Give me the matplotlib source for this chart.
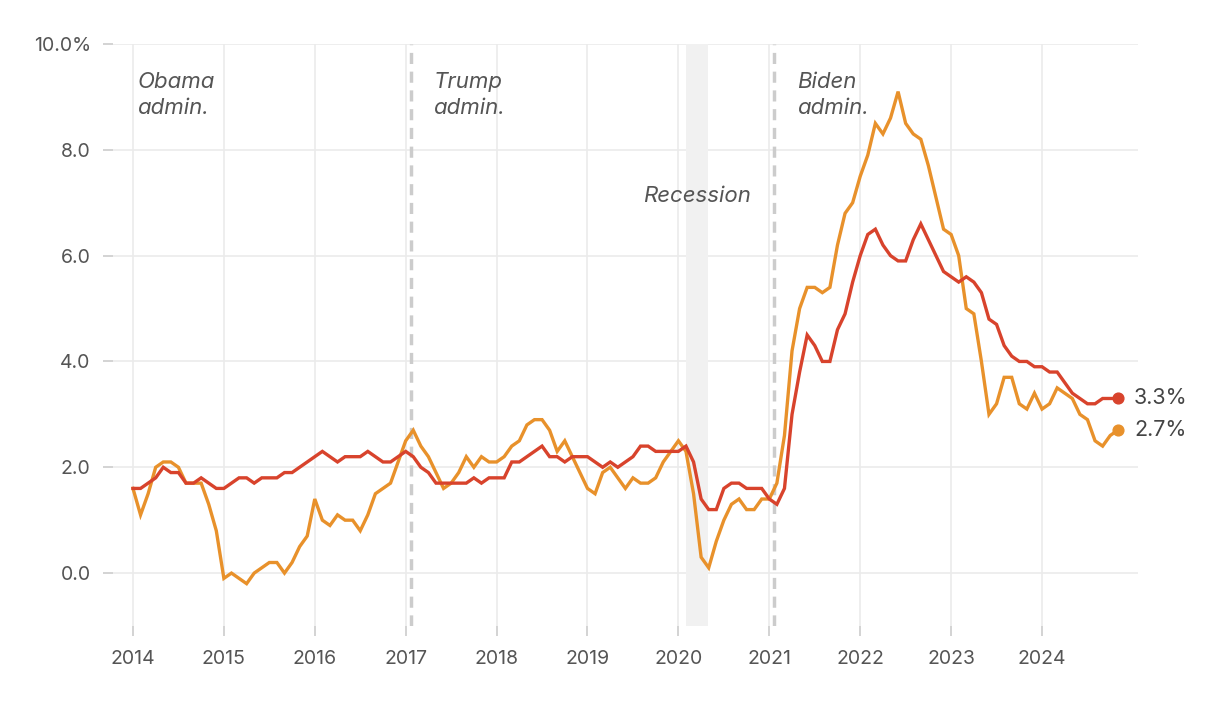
import numpy as np
import matplotlib
matplotlib.use("Agg")
import matplotlib.pyplot as plt

# monthly year-over-year change, Jan 2014 - Nov 2024
headline = [
    1.6, 1.1, 1.5, 2.0, 2.1, 2.1, 2.0, 1.7, 1.7, 1.7, 1.3, 0.8,     # 2014
    -0.1, 0.0, -0.1, -0.2, 0.0, 0.1, 0.2, 0.2, 0.0, 0.2, 0.5, 0.7,  # 2015
    1.4, 1.0, 0.9, 1.1, 1.0, 1.0, 0.8, 1.1, 1.5, 1.6, 1.7, 2.1,     # 2016
    2.5, 2.7, 2.4, 2.2, 1.9, 1.6, 1.7, 1.9, 2.2, 2.0, 2.2, 2.1,     # 2017
    2.1, 2.2, 2.4, 2.5, 2.8, 2.9, 2.9, 2.7, 2.3, 2.5, 2.2, 1.9,     # 2018
    1.6, 1.5, 1.9, 2.0, 1.8, 1.6, 1.8, 1.7, 1.7, 1.8, 2.1, 2.3,     # 2019
    2.5, 2.3, 1.5, 0.3, 0.1, 0.6, 1.0, 1.3, 1.4, 1.2, 1.2, 1.4,     # 2020
    1.4, 1.7, 2.6, 4.2, 5.0, 5.4, 5.4, 5.3, 5.4, 6.2, 6.8, 7.0,     # 2021
    7.5, 7.9, 8.5, 8.3, 8.6, 9.1, 8.5, 8.3, 8.2, 7.7, 7.1, 6.5,     # 2022
    6.4, 6.0, 5.0, 4.9, 4.0, 3.0, 3.2, 3.7, 3.7, 3.2, 3.1, 3.4,     # 2023
    3.1, 3.2, 3.5, 3.4, 3.3, 3.0, 2.9, 2.5, 2.4, 2.6, 2.7,          # 2024
]
core = [
    1.6, 1.6, 1.7, 1.8, 2.0, 1.9, 1.9, 1.7, 1.7, 1.8, 1.7, 1.6,     # 2014
    1.6, 1.7, 1.8, 1.8, 1.7, 1.8, 1.8, 1.8, 1.9, 1.9, 2.0, 2.1,     # 2015
    2.2, 2.3, 2.2, 2.1, 2.2, 2.2, 2.2, 2.3, 2.2, 2.1, 2.1, 2.2,     # 2016
    2.3, 2.2, 2.0, 1.9, 1.7, 1.7, 1.7, 1.7, 1.7, 1.8, 1.7, 1.8,     # 2017
    1.8, 1.8, 2.1, 2.1, 2.2, 2.3, 2.4, 2.2, 2.2, 2.1, 2.2, 2.2,     # 2018
    2.2, 2.1, 2.0, 2.1, 2.0, 2.1, 2.2, 2.4, 2.4, 2.3, 2.3, 2.3,     # 2019
    2.3, 2.4, 2.1, 1.4, 1.2, 1.2, 1.6, 1.7, 1.7, 1.6, 1.6, 1.6,     # 2020
    1.4, 1.3, 1.6, 3.0, 3.8, 4.5, 4.3, 4.0, 4.0, 4.6, 4.9, 5.5,     # 2021
    6.0, 6.4, 6.5, 6.2, 6.0, 5.9, 5.9, 6.3, 6.6, 6.3, 6.0, 5.7,     # 2022
    5.6, 5.5, 5.6, 5.5, 5.3, 4.8, 4.7, 4.3, 4.1, 4.0, 4.0, 3.9,     # 2023
    3.9, 3.8, 3.8, 3.6, 3.4, 3.3, 3.2, 3.2, 3.3, 3.3, 3.3,          # 2024
]
start_year = 2014
years = list(range(2014, 2025))
y_ticks = [0, 2, 4, 6, 8, 10]
y_labels = ["0.0", "2.0", "4.0", "6.0", "8.0", "10.0%"]
# label, x of the inauguration line (None for the first one)
admins = [("Obama\nadmin.", None), ("Trump\nadmin.", 2017.055), ("Biden\nadmin.", 2021.055)]
recession = (2020.08, 2020.33)

RED = "#d8432c"
ORANGE = "#e8912b"
GRAY = "#555555"

plt.rcParams["font.family"] = ["Inter", "DejaVu Sans"]

x = start_year + np.arange(len(headline)) / 12

fig = plt.figure(figsize=(12.2, 7.12), dpi=100)
ax = fig.add_axes([0.0926, 0.1208, 0.8402, 0.8174])

ax.set_xlim(start_year - 0.22, 2025.056)
ax.set_ylim(-1, 10)

# grid
for v in y_ticks:
    ax.axhline(v, color="#ebebeb", lw=1.2, zorder=0)
for yr in years:
    ax.axvline(yr, color="#ebebeb", lw=1.2, zorder=0)

ax.axvspan(*recession, color="#f1f1f1", lw=0, zorder=0.5)
ax.text(sum(recession) / 2, 7.13, "Recession", style="italic", fontsize=16,
        color=GRAY, ha="center", va="center")

for label, xv in admins:
    if xv is None:
        tx = start_year + 0.045
    else:
        ax.axvline(xv, color="#cccccc", lw=2.5, ls=(0, (3.2, 2.2)), zorder=1)
        tx = xv + 0.25
    ax.text(tx, 9.48, label, style="italic", fontsize=16, color=GRAY,
            ha="left", va="top", linespacing=1.4)

ax.plot(x, headline, color=ORANGE, lw=2.4, zorder=3, solid_joinstyle="miter")
ax.plot(x, core, color=RED, lw=2.4, zorder=4, solid_joinstyle="miter")
ax.scatter([x[-1]], [core[-1]], s=60, color=RED, zorder=5)
ax.scatter([x[-1]], [headline[-1]], s=60, color=ORANGE, zorder=5)
ax.text(x[-1] + 0.18, core[-1], f"{core[-1]:.1f}%", fontsize=15.5, color="#444444", va="center")
ax.text(x[-1] + 0.18, headline[-1], f"{headline[-1]:.1f}%", fontsize=15.5, color="#444444", va="center")

ax.set_xticks(years)
ax.set_xticklabels([str(y) for y in years])
ax.set_yticks(y_ticks)
ax.set_yticklabels(y_labels)
ax.tick_params(axis="both", colors="#cccccc", length=7, width=1.2, labelcolor=GRAY, labelsize=14)
ax.tick_params(axis="x", pad=10)
ax.tick_params(axis="y", pad=9)
for s in ax.spines.values():
    s.set_visible(False)

fig.savefig("out.png", dpi=100, facecolor="white")
